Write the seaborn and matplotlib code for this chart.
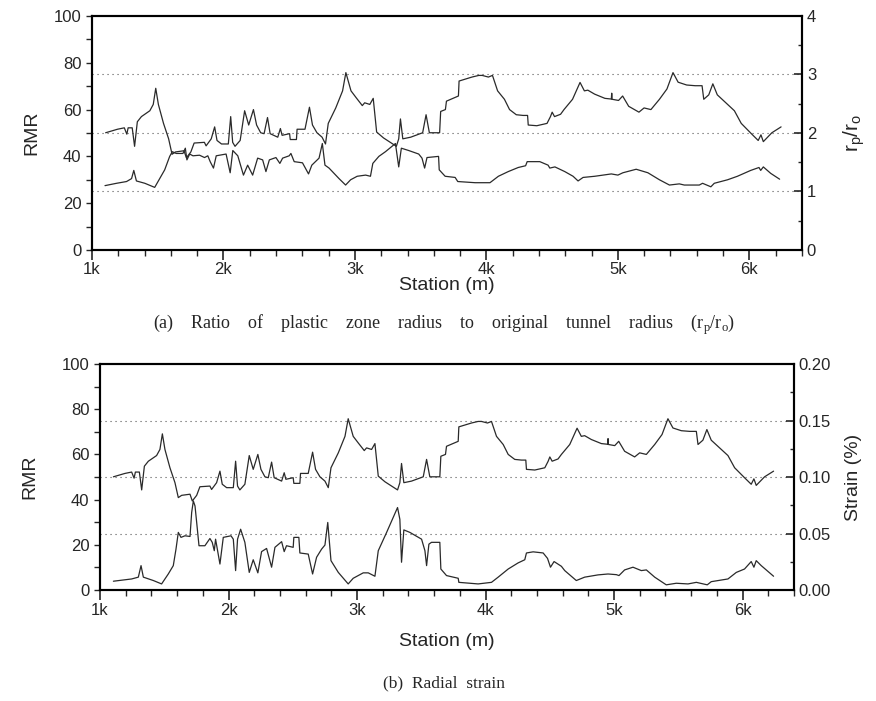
import numpy as np
import pandas as pd
import matplotlib
matplotlib.use("Agg")
import matplotlib.pyplot as plt
from matplotlib.ticker import MultipleLocator
import seaborn as sns

# RMR along the tunnel (same in both panels)
rmr_station = [1104, 1194, 1246, 1265, 1275, 1306, 1324, 1345, 1376, 1440, 1466, 1485, 1505, 1544, 1583,
               1609, 1635, 1700, 1718, 1752, 1777, 1855, 1868, 1907, 1933, 1951, 1985, 2037, 2055, 2070,
               2088, 2127, 2161, 2192, 2228, 2252, 2283, 2309, 2335, 2355, 2413, 2433, 2446, 2503, 2508,
               2555, 2560, 2620, 2654, 2677, 2711, 2750, 2776, 2797, 2854, 2906, 2931, 2970, 3009, 3056,
               3074, 3113, 3139, 3165, 3217, 3268, 3315, 3333, 3346, 3364, 3424, 3515, 3541, 3566, 3644,
               3652, 3688, 3696, 3787, 3792, 3890, 3942, 3968, 4015, 4046, 4085, 4137, 4176, 4227, 4279,
               4313, 4318, 4383, 4461, 4487, 4500, 4518, 4564, 4590, 4655, 4712, 4745, 4771, 4823, 4901,
               4950, 4953, 4956, 5005, 5036, 5082, 5160, 5199, 5251, 5316, 5373, 5419, 5458, 5523, 5588,
               5640, 5653, 5691, 5722, 5756, 5821, 5886, 5938, 6015, 6067, 6088, 6106, 6171, 6241]
rmr_value = [50.1, 51.6, 52.2, 49.5, 52.2, 52.2, 44.3, 54.8, 57.0, 59.5, 62.2, 69.1, 62.2, 54.1, 47.5,
             40.9, 41.9, 42.4, 39.4, 41.9, 45.7, 46.0, 44.5, 47.5, 52.6, 46.8, 45.3, 45.3, 57.0, 46.0,
             44.3, 46.8, 59.5, 53.4, 60.0, 53.4, 50.1, 49.7, 56.6, 49.7, 48.2, 51.9, 49.0, 49.7, 47.2,
             47.2, 51.6, 51.6, 61.0, 53.4, 50.1, 48.2, 45.3, 54.1, 60.7, 68.0, 75.8, 68.0, 65.1, 61.7,
             62.9, 62.2, 64.8, 50.4, 47.9, 46.0, 44.3, 47.5, 56.0, 47.5, 48.2, 50.1, 57.8, 50.1, 50.1,
             59.2, 60.0, 63.6, 65.8, 72.2, 73.9, 74.6, 74.6, 73.9, 74.6, 68.0, 64.4, 60.0, 57.8, 57.5,
             57.5, 53.4, 53.1, 54.1, 57.0, 58.9, 57.0, 58.0, 60.0, 64.4, 71.6, 68.0, 68.3, 66.6, 64.8,
             64.5, 67.0, 64.4, 63.9, 65.8, 61.4, 58.9, 60.7, 60.0, 64.4, 68.8, 75.8, 71.7, 70.5, 70.2,
             70.2, 64.4, 66.3, 71.0, 66.3, 62.9, 59.5, 54.1, 49.7, 46.8, 49.2, 46.3, 50.1, 52.6]

# plastic zone radius ratio rp/ro (panel a)
ratio_station = [1099, 1187, 1263, 1301, 1318, 1338, 1402, 1477, 1515, 1553, 1591, 1611, 1641, 1692, 1710,
                 1722, 1743, 1768, 1818, 1856, 1881, 1899, 1924, 1945, 2020, 2051, 2071, 2109, 2152, 2184,
                 2222, 2260, 2298, 2323, 2349, 2399, 2429, 2450, 2500, 2513, 2538, 2601, 2647, 2672, 2727,
                 2752, 2772, 2803, 2879, 2929, 2967, 3017, 3081, 3118, 3136, 3182, 3232, 3308, 3333, 3353,
                 3409, 3485, 3510, 3530, 3548, 3636, 3641, 3686, 3762, 3782, 3914, 4027, 4091, 4166, 4242,
                 4298, 4310, 4406, 4469, 4482, 4521, 4596, 4659, 4697, 4735, 4824, 4950, 5000, 5038, 5139,
                 5228, 5316, 5392, 5467, 5505, 5619, 5644, 5707, 5733, 5834, 5909, 6010, 6073, 6086, 6106,
                 6162, 6230]
ratio_value = [1.10, 1.14, 1.17, 1.22, 1.36, 1.18, 1.14, 1.07, 1.22, 1.37, 1.60, 1.68, 1.65, 1.65, 1.74,
               1.54, 1.64, 1.61, 1.62, 1.58, 1.61, 1.51, 1.40, 1.61, 1.64, 1.32, 1.70, 1.61, 1.28, 1.45,
               1.28, 1.57, 1.54, 1.34, 1.54, 1.58, 1.48, 1.57, 1.61, 1.65, 1.51, 1.49, 1.30, 1.45, 1.57,
               1.82, 1.45, 1.40, 1.22, 1.11, 1.20, 1.26, 1.28, 1.26, 1.48, 1.60, 1.68, 1.82, 1.42, 1.74,
               1.70, 1.64, 1.57, 1.40, 1.58, 1.60, 1.37, 1.26, 1.24, 1.17, 1.15, 1.15, 1.26, 1.34, 1.41,
               1.44, 1.51, 1.51, 1.45, 1.40, 1.42, 1.34, 1.26, 1.18, 1.24, 1.26, 1.30, 1.28, 1.32, 1.38,
               1.32, 1.20, 1.11, 1.13, 1.11, 1.11, 1.14, 1.08, 1.14, 1.20, 1.26, 1.36, 1.41, 1.36, 1.42,
               1.31, 1.21]

# radial strain in % (panel b)
strain_station = [1104, 1246, 1298, 1319, 1337, 1415, 1479, 1531, 1570, 1591, 1609, 1630, 1661, 1700, 1713,
                  1726, 1739, 1752, 1770, 1816, 1855, 1873, 1889, 1899, 1933, 1959, 2019, 2037, 2055, 2070,
                  2094, 2127, 2161, 2192, 2228, 2257, 2296, 2335, 2361, 2413, 2433, 2451, 2503, 2508, 2547,
                  2555, 2620, 2654, 2685, 2724, 2750, 2772, 2797, 2854, 2931, 2970, 3048, 3087, 3139, 3165,
                  3230, 3315, 3333, 3346, 3364, 3411, 3502, 3528, 3541, 3559, 3579, 3644, 3652, 3696, 3787,
                  3792, 3942, 4046, 4098, 4176, 4253, 4305, 4318, 4370, 4448, 4482, 4505, 4533, 4590, 4616,
                  4706, 4771, 4875, 4953, 5018, 5038, 5082, 5147, 5212, 5251, 5316, 5406, 5484, 5575, 5640,
                  5725, 5756, 5886, 5951, 6015, 6067, 6088, 6106, 6145, 6241]
strain_value = [0.0078, 0.0098, 0.0114, 0.0216, 0.0114, 0.0084, 0.0054, 0.0142, 0.0216, 0.0362, 0.0510,
                0.0466, 0.0480, 0.0474, 0.0686, 0.0788, 0.0744, 0.0598, 0.0392, 0.0392, 0.0456, 0.0422,
                0.0348, 0.0450, 0.0230, 0.0466, 0.0480, 0.0450, 0.0172, 0.0450, 0.0538, 0.0422, 0.0156,
                0.0268, 0.0152, 0.0340, 0.0368, 0.0202, 0.0378, 0.0428, 0.0340, 0.0392, 0.0378, 0.0466,
                0.0466, 0.0328, 0.0318, 0.0142, 0.0290, 0.0362, 0.0398, 0.0598, 0.0260, 0.0156, 0.0054,
                0.0104, 0.0152, 0.0152, 0.0122, 0.0348, 0.0510, 0.0730, 0.0626, 0.0246, 0.0532, 0.0510,
                0.0450, 0.0348, 0.0216, 0.0406, 0.0422, 0.0422, 0.0186, 0.0128, 0.0104, 0.0068, 0.0054,
                0.0068, 0.0114, 0.0186, 0.0240, 0.0268, 0.0328, 0.0338, 0.0328, 0.0280, 0.0202, 0.0252,
                0.0210, 0.0172, 0.0084, 0.0114, 0.0134, 0.0142, 0.0136, 0.0128, 0.0178, 0.0202, 0.0172,
                0.0178, 0.0114, 0.0046, 0.0060, 0.0054, 0.0068, 0.0046, 0.0074, 0.0098, 0.0156, 0.0186,
                0.0252, 0.0202, 0.0260, 0.0216, 0.0122]

x_ticks = [1000, 2000, 3000, 4000, 5000, 6000]
x_tick_labels = ["1k", "2k", "3k", "4k", "5k", "6k"]

sns.set_style("ticks")
plt.rcParams['font.family'] = ['Liberation Sans', 'DejaVu Sans']

line_color = "#2a2a2a"
rmr_df = pd.DataFrame({"station": rmr_station, "rmr": rmr_value})


def style_axes(ax, ax2, xpad, ypad):
    ax.set_xlim(1000, 6400)
    ax.set_ylim(0, 100)
    ax.set_xticks(x_ticks)
    ax.set_xticklabels(x_tick_labels)
    ax.xaxis.set_minor_locator(MultipleLocator(200))
    ax.yaxis.set_major_locator(MultipleLocator(20))
    ax.yaxis.set_minor_locator(MultipleLocator(10))
    ax.tick_params(axis='x', which='major', direction='out', length=7, width=1.2, labelsize=12, pad=2)
    ax.tick_params(axis='x', which='minor', direction='out', length=4, width=1.0)
    ax.tick_params(axis='y', which='both', direction='out', length=4, width=1.0, labelsize=12)
    ax2.tick_params(axis='y', which='major', direction='in', length=6, width=1.2, labelsize=12)
    ax2.tick_params(axis='y', which='minor', direction='in', length=3, width=1.0)
    for a in (ax, ax2):
        for sp in a.spines.values():
            sp.set_visible(True)
            sp.set_linewidth(1.5)
            sp.set_color("black")
    for lvl in (25, 50, 75):
        ax.axhline(lvl, color="#555555", linestyle=(0, (1, 3.5)), linewidth=0.8, zorder=0)
    ax.set_xlabel("Station (m)", fontsize=14, labelpad=xpad)
    ax.set_ylabel("RMR", fontsize=14, labelpad=ypad)


fig = plt.figure(figsize=(8.76, 7.01), dpi=100)

# panel (a): RMR and rp/ro
ax_a = fig.add_axes([0.105, 0.6434, 0.8105, 0.3338])
ax_a2 = ax_a.twinx()
sns.lineplot(data=rmr_df, x="station", y="rmr", ax=ax_a, color=line_color,
             linewidth=0.9, estimator=None, sort=False)
sns.lineplot(x=ratio_station, y=ratio_value, ax=ax_a2, color=line_color,
             linewidth=0.9, estimator=None, sort=False)
ax_a2.set_ylim(0, 4)
ax_a2.yaxis.set_major_locator(MultipleLocator(1))
ax_a2.yaxis.set_minor_locator(MultipleLocator(0.5))
ax_a2.set_ylabel(r"$\mathregular{r_p/r_o}$", fontsize=15, labelpad=18)
style_axes(ax_a, ax_a2, 0, 10)

# panel (b): RMR and radial strain
ax_b = fig.add_axes([0.1142, 0.1583, 0.7922, 0.3224])
ax_b2 = ax_b.twinx()
sns.lineplot(data=rmr_df, x="station", y="rmr", ax=ax_b, color=line_color,
             linewidth=0.9, estimator=None, sort=False)
sns.lineplot(x=strain_station, y=strain_value, ax=ax_b2, color=line_color,
             linewidth=0.9, estimator=None, sort=False)
ax_b2.set_ylim(0, 0.2)
ax_b2.yaxis.set_major_locator(MultipleLocator(0.05))
ax_b2.yaxis.set_minor_locator(MultipleLocator(0.025))
ax_b2.yaxis.set_major_formatter(matplotlib.ticker.FormatStrFormatter("%.2f"))
ax_b2.set_ylabel("Strain (%)", fontsize=14, labelpad=10)
style_axes(ax_b, ax_b2, 11, 17)

# captions
fig.text(0.507, 0.537, r"(a)    Ratio    of    plastic    zone    radius    to    original    tunnel    radius    (r$_\mathregular{p}$/r$_\mathregular{o}$)",
         ha="center", va="center", fontsize=13, family="Liberation Serif")
fig.text(0.507, 0.025, "(b)  Radial  strain", ha="center", va="center",
         fontsize=12.5, family="Liberation Serif")

plt.savefig("out.png", dpi=100)
